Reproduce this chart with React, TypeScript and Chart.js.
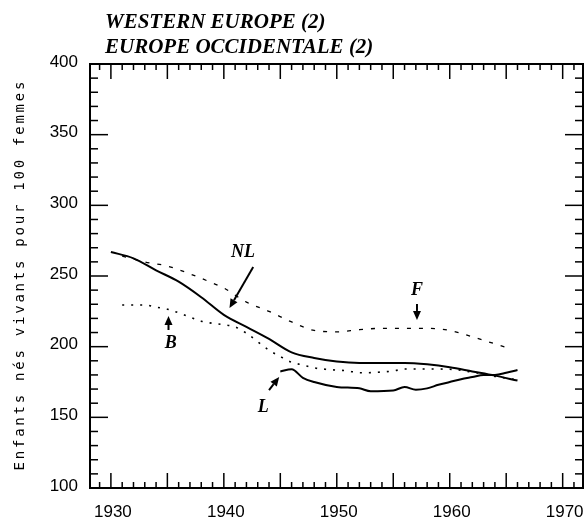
import React, { useEffect, useRef } from 'react';
import { Chart, registerables } from 'chart.js';

Chart.register(...registerables);

// ---- data ----
const nlYears = [1930, 1932, 1934, 1936, 1938, 1940, 1942, 1944, 1946, 1948, 1950, 1952, 1954, 1956, 1958, 1960, 1962, 1964, 1966];
const nlValues = [267, 262.5, 254, 246, 235, 222.5, 214, 205.5, 196, 192, 189.5, 188.5, 188.5, 188.5, 187.5, 185.5, 182.5, 179.5, 176];

const fYears = [1931, 1933, 1935, 1937, 1939, 1940, 1942, 1944, 1946, 1948, 1950, 1952, 1954, 1956, 1958, 1960, 1962, 1964, 1965];
const fValues = [264, 260, 257, 251.5, 245, 241.5, 231.5, 225, 217.5, 211.5, 210.5, 212, 213, 213, 213, 211.5, 207, 202, 199.5];

const bYears = [1931, 1933, 1934, 1935, 1937, 1938, 1940, 1941, 1942, 1944, 1945, 1946, 1947, 1948, 1949, 1951, 1952, 1955, 1956, 1958, 1960, 1962, 1964, 1966];
const bValues = [229.5, 229.5, 228, 226.5, 221, 218, 215.5, 214, 209.5, 197.5, 193, 189, 187, 185, 184, 182.8, 181.5, 182.8, 184.2, 184.2, 184, 182, 179, 176.5];

const lYears = [1945, 1946, 1947, 1948, 1950, 1952, 1953, 1955, 1956, 1957, 1958, 1959, 1960, 1961, 1962, 1963, 1964, 1965, 1966];
const lValues = [182.5, 184, 178, 175, 171.5, 170.5, 168.5, 169, 171.5, 169.5, 170.5, 173, 175, 177, 178.5, 180, 180, 181.5, 183.5];

const yTickValues = [100, 150, 200, 250, 300, 350, 400];
const xTickYears = [1930, 1940, 1950, 1960, 1970];
const titleLines = ['WESTERN EUROPE (2)', 'EUROPE OCCIDENTALE (2)'];
const yAxisTitle = 'Enfants nés vivants pour 100 femmes';
const seriesLabels = ['NL', 'F', 'B', 'L'];

// annotation placement (data coordinates)
const labelPos = [
  { x: 1941.7, y: 266.5 },
  { x: 1957.1, y: 239.7 },
  { x: 1935.3, y: 202.2 },
  { x: 1943.5, y: 157.0 },
];
const arrowPos = [
  { x1: 1942.6, y1: 256.3, x2: 1940.5, y2: 227.3 },
  { x1: 1957.1, y1: 230.2, x2: 1957.1, y2: 218.9 },
  { x1: 1935.1, y1: 211.8, x2: 1935.1, y2: 221.7 },
  { x1: 1944.0, y1: 169.3, x2: 1944.9, y2: 178.5 },
];

const X_MIN = 1928.15;
const X_MAX = 1971.8;
const Y_MIN = 100;
const Y_MAX = 400;

const pts = (xs: number[], ys: number[]) => xs.map((x, i) => ({ x, y: ys[i] }));

const decorPlugin = {
  id: 'decor',
  afterDraw(chart: any) {
    const { ctx, chartArea: a, scales } = chart;
    const xs = scales.x;
    const ys = scales.y;
    const line = (x1: number, y1: number, x2: number, y2: number) => {
      ctx.beginPath();
      ctx.moveTo(x1, y1);
      ctx.lineTo(x2, y2);
      ctx.stroke();
    };
    ctx.save();
    ctx.strokeStyle = '#000';
    ctx.fillStyle = '#000';

    // frame
    ctx.lineWidth = 2;
    ctx.strokeRect(a.left, a.top, a.right - a.left, a.bottom - a.top);

    // y ticks (inward, both sides)
    ctx.lineWidth = 1.5;
    for (let v = Y_MIN; v <= Y_MAX; v += 10) {
      const py = ys.getPixelForValue(v);
      const len = v % 50 === 0 ? 18 : 8;
      line(a.left, py, a.left + len, py);
      line(a.right, py, a.right - len, py);
    }
    // x ticks (inward, top and bottom)
    for (let yr = Math.ceil(X_MIN); yr <= X_MAX; yr++) {
      const px = xs.getPixelForValue(yr);
      const len = yr % 5 === 0 ? 15 : 6;
      line(px, a.bottom, px, a.bottom - len);
      line(px, a.top, px, a.top + len);
    }

    // tick labels
    ctx.font = '17px "Liberation Sans"';
    ctx.textAlign = 'right';
    ctx.textBaseline = 'middle';
    yTickValues.forEach((v) => {
      ctx.fillText(String(v), a.left - 12, ys.getPixelForValue(v) - 2);
    });
    ctx.textAlign = 'center';
    ctx.textBaseline = 'middle';
    xTickYears.forEach((yr) => {
      ctx.fillText(String(yr), xs.getPixelForValue(yr) + 2, 512);
    });

    // y axis title
    ctx.save();
    ctx.translate(20, 276);
    ctx.rotate(-Math.PI / 2);
    ctx.font = '14px "DejaVu Sans Mono"';
    const targetLen = 389;
    const w0 = ctx.measureText(yAxisTitle).width;
    const sp = (targetLen - w0) / (yAxisTitle.length - 1);
    (ctx as any).letterSpacing = `${sp.toFixed(2)}px`;
    ctx.textAlign = 'center';
    ctx.textBaseline = 'middle';
    ctx.fillText(yAxisTitle, sp / 2, 0);
    ctx.restore();

    // title
    ctx.font = 'bold italic 21px "Liberation Serif"';
    ctx.textAlign = 'left';
    ctx.textBaseline = 'alphabetic';
    ctx.fillText(titleLines[0], 105, 28);
    ctx.fillText(titleLines[1], 105, 53);

    // series labels
    ctx.font = 'bold italic 18px "Liberation Serif"';
    ctx.textAlign = 'center';
    ctx.textBaseline = 'middle';
    seriesLabels.forEach((t, i) => {
      const p = labelPos[i];
      ctx.fillText(t, xs.getPixelForValue(p.x), ys.getPixelForValue(p.y));
    });

    // arrows
    ctx.lineWidth = 2;
    arrowPos.forEach((ar) => {
      const x1 = xs.getPixelForValue(ar.x1);
      const y1 = ys.getPixelForValue(ar.y1);
      const x2 = xs.getPixelForValue(ar.x2);
      const y2 = ys.getPixelForValue(ar.y2);
      const ang = Math.atan2(y2 - y1, x2 - x1);
      const hl = 9;
      const hw = 4;
      const bx = x2 - hl * Math.cos(ang);
      const by = y2 - hl * Math.sin(ang);
      line(x1, y1, bx, by);
      ctx.beginPath();
      ctx.moveTo(x2, y2);
      ctx.lineTo(bx + hw * Math.sin(ang), by - hw * Math.cos(ang));
      ctx.lineTo(bx - hw * Math.sin(ang), by + hw * Math.cos(ang));
      ctx.closePath();
      ctx.fill();
    });
    ctx.restore();
  },
};

export default function App() {
  const ref = useRef<HTMLCanvasElement | null>(null);
  useEffect(() => {
    if (!ref.current) return;
    const chart = new Chart(ref.current, {
      type: 'scatter',
      data: {
        datasets: [
          { label: seriesLabels[0], data: pts(nlYears, nlValues), showLine: true, borderColor: '#000', borderWidth: 2, pointRadius: 0, cubicInterpolationMode: 'monotone' },
          { label: seriesLabels[1], data: pts(fYears, fValues), showLine: true, borderColor: '#000', borderWidth: 1.3, borderDash: [4, 8], pointRadius: 0, cubicInterpolationMode: 'monotone' },
          { label: seriesLabels[2], data: pts(bYears, bValues), showLine: true, borderColor: '#000', borderWidth: 1.6, borderDash: [2, 7], pointRadius: 0, cubicInterpolationMode: 'monotone' },
          { label: seriesLabels[3], data: pts(lYears, lValues), showLine: true, borderColor: '#000', borderWidth: 2, pointRadius: 0, cubicInterpolationMode: 'monotone' },
        ],
      },
      options: {
        responsive: false,
        animation: false,
        layout: { padding: { left: 90, top: 64, right: 1, bottom: 35 } },
        plugins: { legend: { display: false }, tooltip: { enabled: false } },
        scales: {
          x: { type: 'linear', display: false, min: X_MIN, max: X_MAX },
          y: { type: 'linear', display: false, min: Y_MIN, max: Y_MAX },
        },
      },
      plugins: [decorPlugin],
    });
    return () => chart.destroy();
  }, []);
  return (
    <div style={{ position: 'fixed', left: 0, top: 0, width: 584, height: 523, background: '#fff' }}>
      <canvas ref={ref} width={584} height={523} style={{ display: 'block' }} />
    </div>
  );
}
